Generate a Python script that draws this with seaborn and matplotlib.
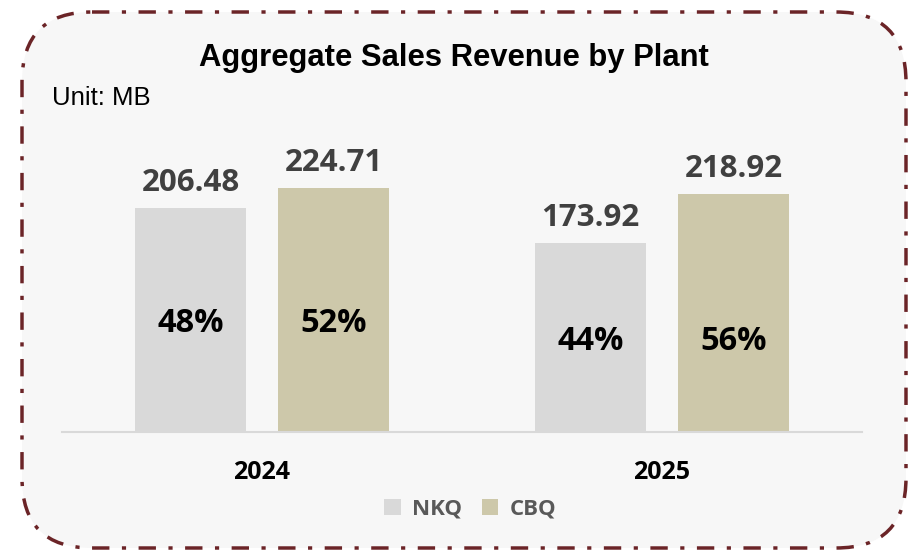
import numpy as np
import pandas as pd
import seaborn as sns
import matplotlib.pyplot as plt
from matplotlib.patches import FancyBboxPatch

years = ['2024', '2025']
plants = ['NKQ', 'CBQ']
nkq_sales = [206.48, 173.92]
cbq_sales = [224.71, 218.92]
palette = {'NKQ': '#d9d9d9', 'CBQ': '#cdc8aa'}

df = pd.DataFrame({
    'year': years * 2,
    'plant': ['NKQ'] * len(years) + ['CBQ'] * len(years),
    'sales': nkq_sales + cbq_sales,
})

sns.set_theme(style='white')
plt.rcParams['font.family'] = ['Open Sans', 'DejaVu Sans']

fig = plt.figure(figsize=(9.22, 5.56), dpi=100)
fig.patch.set_facecolor('white')

# rounded dash-dot frame, drawn in pixel units
bg = fig.add_axes([0, 0, 1, 1])
bg.set_xlim(0, 922)
bg.set_ylim(556, 0)
bg.axis('off')
frame = FancyBboxPatch((22, 12), 884, 536, boxstyle='round,pad=0,rounding_size=70',
                       facecolor='#f7f7f7', edgecolor='#6b2427', linewidth=2.5,
                       linestyle=(0, (5, 3.6, 1.2, 3.6)))
bg.add_patch(frame)

ax = fig.add_axes([62 / 922, 1 - 432 / 556, 800 / 922, (432 - 149.6) / 556])
ax.set_facecolor('none')
sns.barplot(data=df, x='year', y='sales', hue='plant', hue_order=plants, palette=palette,
            width=0.715, gap=0.22, saturation=1, linewidth=0, ax=ax)
ax.set_xlim(-0.5, 1.5)
ax.set_ylim(0, 260)
ax.set_xlabel('')
ax.set_ylabel('')
ax.set_yticks([])
for s in ['top', 'left', 'right']:
    ax.spines[s].set_visible(False)
ax.spines['bottom'].set_color('#d9d9d9')
ax.spines['bottom'].set_linewidth(1.5)
ax.tick_params(axis='x', length=0, pad=20)
for lbl in ax.get_xticklabels():
    lbl.set_fontsize(18)
    lbl.set_fontweight('bold')
    lbl.set_color('black')

for cont in ax.containers:
    ax.bar_label(cont, fmt='%.2f', padding=7, fontsize=22.5, fontweight='bold', color='#404040')

# share of each plant within the year, placed around mid-height of the NKQ bar
totals = np.array(nkq_sales) + np.array(cbq_sales)
for cont, vals in zip(ax.containers, [nkq_sales, cbq_sales]):
    for i, p in enumerate(cont.patches):
        share = vals[i] / totals[i]
        ax.text(p.get_x() + p.get_width() / 2, nkq_sales[i] / 2, f'{share:.0%}',
                ha='center', va='center_baseline', fontsize=23.5, fontweight='bold', color='black')

handles, labels = ax.get_legend_handles_labels()
ax.get_legend().remove()
leg = fig.legend(handles, labels, loc='center', bbox_to_anchor=(470 / 922, 1 - 509 / 556),
                 ncol=2, frameon=False, handlelength=0.75, handleheight=0.75,
                 handletextpad=0.5, columnspacing=0.9,
                 prop=dict(family='Open Sans', weight='bold', size=16))
for t in leg.get_texts():
    t.set_color('#595959')

fig.text(454 / 922, 1 - 58 / 556, 'Aggregate Sales Revenue by Plant', ha='center', va='center',
         fontsize=22.3, fontweight='bold', family='Liberation Sans', color='black')
fig.text(52 / 922, 1 - 98 / 556, 'Unit: MB', ha='left', va='center',
         fontsize=18.5, family='Liberation Sans', color='black')

fig.savefig('out.png', dpi=100)
